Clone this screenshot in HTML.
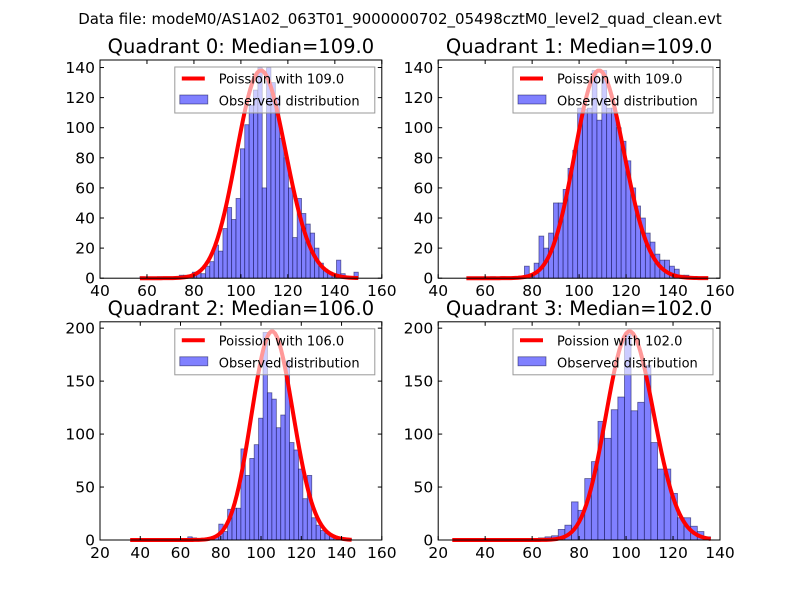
<!DOCTYPE html>
<html><head><meta charset="utf-8"><style>
body{margin:0;background:#fff}
svg{display:block;font-family:"DejaVu Sans","Liberation Sans",sans-serif}
</style></head><body>
<svg id="fig" width="800" height="600" viewBox="0 0 800 600">
<rect width="800" height="600" fill="#fff"/>
<text x="400" y="24" font-size="15" text-anchor="middle">Data file: modeM0/AS1A02_063T01_9000000702_05498cztM0_level2_quad_clean.evt</text>
</svg>
<script>
// Quadrant 0
const q0Counts = [1,0,0,0,1,0,0,0,0,2,2,2,4,4,3,8,11,22,18,33,47,39,53,86,102,115,125,140,60,140,130,120,93,80,60,27,53,43,36,30,20,10,6,4,2,12,3,1,0,4];
const q0Bin = [57, 1.86];
const q0Median = 109.0;
const q0CurveRange = [57, 150];
const q0CurveScale = 3613;
// Quadrant 1
const q1Counts = [0,0,0,0,0,1,0,1,0,0,0,0,8,2,10,28,20,30,50,50,59,73,85,113,112,113,138,105,138,113,113,100,91,78,60,48,40,30,24,16,12,12,8,6,2,2,1,0,0,0];
const q1Bin = [52, 2.06];
const q1Median = 109.0;
const q1CurveRange = [52, 155];
const q1CurveScale = 3613;
// Quadrant 2
const q2Counts = [0,0,0,0,0,0,0,0,0,0,0,0,0,3,2,0,0,2,1,3,15,8,29,30,30,86,61,77,90,115,196,139,133,106,118,169,92,85,67,39,61,21,14,9,6,4,3,2,1,1];
const q2Bin = [35, 2.2];
const q2Median = 106.0;
const q2CurveRange = [35, 145];
const q2CurveScale = 5084;
// Quadrant 3
const q3Counts = [0,0,0,0,0,0,0,0,0,0,0,0,1,2,3,4,10,14,36,28,58,74,112,96,123,135,194,122,130,165,92,67,67,44,21,21,13,8,3];
const q3Bin = [26, 2.82];
const q3Median = 102.0;
const q3CurveRange = [26, 136];
const q3CurveScale = 4987;

const xTicks01 = [40,60,80,100,120,140,160];
const xTicks2 = [20,40,60,80,100,120,140,160];
const xTicks3 = [20,40,60,80,100,120,140];
const yTicks01 = [0,20,40,60,80,100,120,140];
const yTicks23 = [0,50,100,150,200];

const NS="http://www.w3.org/2000/svg";
const fig=document.getElementById('fig');
function mk(tag,attrs,parent){const e=document.createElementNS(NS,tag);for(const k in attrs)e.setAttribute(k,attrs[k]);(parent||fig).appendChild(e);return e;}
function lgamma(x){
  let s=0; while(x<8){s-=Math.log(x);x+=1;}
  return s+(x-0.5)*Math.log(x)-x+0.5*Math.log(2*Math.PI)+1/(12*x)-1/(360*x*x*x);
}
function pois(k,mu){return Math.exp(k*Math.log(mu)-mu-lgamma(k+1));}

function panel(p){
  const g=mk('g',{});
  
  
  const X=v=>p.l+(v-p.xmin)/(p.xmax-p.xmin)*(p.r-p.l);
  const Y=v=>p.b-(v)/(p.ymax)*(p.b-p.t);
  p.counts.forEach((c,i)=>{
    if(c<=0)return;
    const x0=X(p.bin[0]+i*p.bin[1]), x1=X(p.bin[0]+(i+1)*p.bin[1]);
    const r=mk('rect',{x:x0,y:Y(c),width:x1-x0,height:Y(0)-Y(c),fill:'rgb(128,128,255)',stroke:'rgba(0,0,60,0.55)','stroke-width':0.8},g);
    
    
  });
  let d='';
  for(let k=Math.ceil(p.cr[0]);k<=p.cr[1];k++){
    const v=pois(k,p.median)*p.scale;
    d+=(d?'L':'M')+X(k).toFixed(2)+','+Y(v).toFixed(2);
  }
  const path=mk('path',{d:d,fill:'none',stroke:'#ff0000','stroke-width':4,'stroke-linejoin':'round'},g);
  
  
  const lg=mk('g',{},g);
  
  
  const lx=p.r-207, ly=p.t+7;
  mk('rect',{x:lx,y:ly,width:200,height:46,fill:'rgba(255,255,255,0.6)',stroke:'#999','stroke-width':1},lg);
  mk('line',{x1:lx+7,y1:ly+11.5,x2:lx+30,y2:ly+11.5,stroke:'#ff0000','stroke-width':4},lg);
  const t1=mk('text',{x:lx+44,y:ly+16.5,'font-size':13},lg); t1.textContent='Poission with '+p.median.toFixed(1);
  
  
  mk('rect',{x:lx+5,y:ly+28,width:28,height:9,fill:'rgb(128,128,255)',stroke:'rgba(0,0,60,0.55)','stroke-width':0.8},lg);
  const t2=mk('text',{x:lx+44,y:ly+38.5,'font-size':13},lg); t2.textContent='Observed distribution';
  
  
  mk('rect',{x:p.l,y:p.t,width:p.r-p.l,height:p.b-p.t,fill:'none',stroke:'#000','stroke-width':1},g);
  p.xt.forEach(v=>{
    const x=X(v);
    mk('line',{x1:x,y1:p.b,x2:x,y2:p.b-4,stroke:'#000'},g);
    mk('line',{x1:x,y1:p.t,x2:x,y2:p.t+4,stroke:'#000'},g);
    const t=mk('text',{x:x,y:p.b+18,'font-size':15.5,'text-anchor':'middle'},g);t.textContent=v;
    
    
  });
  p.yt.forEach(v=>{
    const y=Y(v);
    mk('line',{x1:p.l,y1:y,x2:p.l+4,y2:y,stroke:'#000'},g);
    mk('line',{x1:p.r,y1:y,x2:p.r-4,y2:y,stroke:'#000'},g);
    const t=mk('text',{x:p.l-5,y:y+5.5,'font-size':15.5,'text-anchor':'end'},g);t.textContent=v;
    
    
  });
  const tt=mk('text',{x:(p.l+p.r)/2,y:p.t-7,'font-size':19.5,'text-anchor':'middle'},g);
  tt.textContent='Quadrant '+p.id+': Median='+p.median.toFixed(1);
  
  
}
panel({id:0,l:100,r:381.8,t:60,b:278.2,xmin:40,xmax:160,ymax:145,counts:q0Counts,bin:q0Bin,median:q0Median,cr:q0CurveRange,scale:q0CurveScale,xt:xTicks01,yt:yTicks01});
panel({id:1,l:438.2,r:720,t:60,b:278.2,xmin:40,xmax:160,ymax:145,counts:q1Counts,bin:q1Bin,median:q1Median,cr:q1CurveRange,scale:q1CurveScale,xt:xTicks01,yt:yTicks01});
panel({id:2,l:100,r:381.8,t:321.8,b:540,xmin:20,xmax:160,ymax:206,counts:q2Counts,bin:q2Bin,median:q2Median,cr:q2CurveRange,scale:q2CurveScale,xt:xTicks2,yt:yTicks23});
panel({id:3,l:438.2,r:720,t:321.8,b:540,xmin:20,xmax:140,ymax:206,counts:q3Counts,bin:q3Bin,median:q3Median,cr:q3CurveRange,scale:q3CurveScale,xt:xTicks3,yt:yTicks23});
</script>
</body></html>
